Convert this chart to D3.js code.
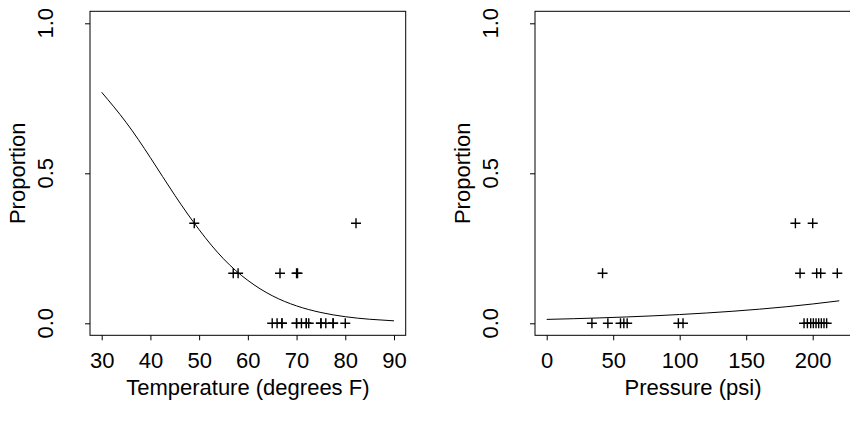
<!DOCTYPE html>
<html>
<head>
<meta charset="utf-8">
<script src="https://cdn.jsdelivr.net/npm/d3@7"></script>
<style>
  html, body { margin: 0; padding: 0; background: #fff; }
  svg { display: block; }
  text { font-family: "Liberation Sans", Arial, Helvetica, sans-serif; fill: #000; }
</style>
</head>
<body>
<svg id="chart" width="850" height="424"></svg>
<script>
// ---------- data ----------
// Left panel: temperature vs proportion damaged
const tempZero = [65, 66, 67, 67, 70, 70, 71, 72, 72, 72.5, 75, 75, 76, 77.5, 77.5, 80];
const tempOneSixth = [57, 58, 66.6, 70, 70.2];
const tempTwoSixths = [49, 82.2];
// Right panel: pressure vs proportion damaged
const presZero = [34, 46, 55.5, 58, 60.5, 99, 102.5, 193.5, 196, 198.5, 200.5, 202.5, 204.5, 206.5, 208.5, 210.5];
const presOneSixth = [42, 190.5, 203, 206, 218.5];
const presTwoSixths = [187, 200];
// Fitted curves
const tempCurveX = [30, 35, 40, 45, 50, 55, 60, 65, 70, 75, 80, 85, 90];
const tempCurveY = [0.770, 0.670, 0.552, 0.427, 0.312, 0.215, 0.143, 0.092, 0.058, 0.036, 0.022, 0.0135, 0.0082];
const presCurveX = [0, 20, 40, 60, 80, 100, 120, 140, 160, 180, 200, 220];
const presCurveY = [0.013, 0.0153, 0.018, 0.0212, 0.0249, 0.0292, 0.0343, 0.0402, 0.0471, 0.0551, 0.0644, 0.075];
// Tick labels
const tempTicks = [30, 40, 50, 60, 70, 80, 90];
const presTicks = [0, 50, 100, 150, 200];
const propTicks = [0, 0.5, 1.0];

const svg = d3.select("#chart");
const FONT = 22;

function toPoints(xs, ys) { return xs.map((x, i) => ({x, y: ys[i]})); }

function panel(opts) {
  const {left, right, top, bottom, xDomain, xTicks, xTitle, zero, one, two, curveX, curveY} = opts;
  const x = d3.scaleLinear().domain(xDomain).range([left, right]);
  const y = d3.scaleLinear().domain([-0.04, 1.04]).range([bottom, top]);
  const g = svg.append("g");

  // box
  g.append("rect").attr("x", left).attr("y", top)
    .attr("width", right - left).attr("height", bottom - top)
    .attr("fill", "none").attr("stroke", "#000").attr("stroke-width", 1);

  // x axis
  const xa = d3.axisBottom(x).tickValues(xTicks).tickSize(5).tickFormat(d3.format("d"));
  const gx = g.append("g").attr("transform", `translate(0,${bottom})`).call(xa);
  gx.select(".domain").remove();
  gx.selectAll("text")
    .attr("y", 25).attr("dy", "0.35em")
    .attr("font-size", FONT).attr("font-family", "Liberation Sans, Arial, sans-serif");

  // y axis
  const ya = d3.axisLeft(y).tickValues(propTicks).tickSize(5).tickFormat(d3.format(".1f"));
  const gy = g.append("g").attr("transform", `translate(${left},0)`).call(ya);
  gy.select(".domain").remove();
  gy.selectAll("text").remove();
  propTicks.forEach(t => {
    g.append("text")
      .attr("transform", `translate(${left - 45},${y(t)}) rotate(-90)`)
      .attr("text-anchor", "middle")
      .attr("dy", "0.35em")
      .attr("font-size", FONT)
      .text(d3.format(".1f")(t));
  });

  // axis titles (centred on the full plot region, even if clipped at the page edge)
  g.append("text")
    .attr("x", (left + right) / 2)
    .attr("y", bottom + 52)
    .attr("dy", "0.35em")
    .attr("text-anchor", "middle")
    .attr("font-size", FONT)
    .text(xTitle);
  g.append("text")
    .attr("transform", `translate(${left - 73},${(top + bottom) / 2}) rotate(-90)`)
    .attr("text-anchor", "middle")
    .attr("dy", "0.35em")
    .attr("font-size", FONT)
    .text("Proportion");

  // curve
  const line = d3.line().x(d => x(d.x)).y(d => y(d.y)).curve(d3.curveNatural);
  g.append("path").datum(toPoints(curveX, curveY))
    .attr("d", line).attr("fill", "none").attr("stroke", "#000").attr("stroke-width", 1);

  // points
  const pts = [].concat(
    zero.map(v => ({x: v, y: 0})),
    one.map(v => ({x: v, y: 1 / 6})),
    two.map(v => ({x: v, y: 2 / 6}))
  );
  g.selectAll("path.pt").data(pts).enter().append("path")
    .attr("class", "pt")
    .attr("d", "M-5,0H5M0,-5V5")
    .attr("transform", d => `translate(${x(d.x)},${y(d.y)})`)
    .attr("stroke", "#000").attr("stroke-width", 1.4).attr("fill", "none");
}

panel({
  left: 90, right: 405.7, top: 11.3, bottom: 335.3,
  xDomain: [27.6, 92.4], xTicks: tempTicks, xTitle: "Temperature (degrees F)",
  zero: tempZero, one: tempOneSixth, two: tempTwoSixths,
  curveX: tempCurveX, curveY: tempCurveY
});

panel({
  left: 535, right: 851, top: 11.3, bottom: 335.3,
  xDomain: [-8.8, 228.8], xTicks: presTicks, xTitle: "Pressure (psi)",
  zero: presZero, one: presOneSixth, two: presTwoSixths,
  curveX: presCurveX, curveY: presCurveY
});
</script>
</body>
</html>
